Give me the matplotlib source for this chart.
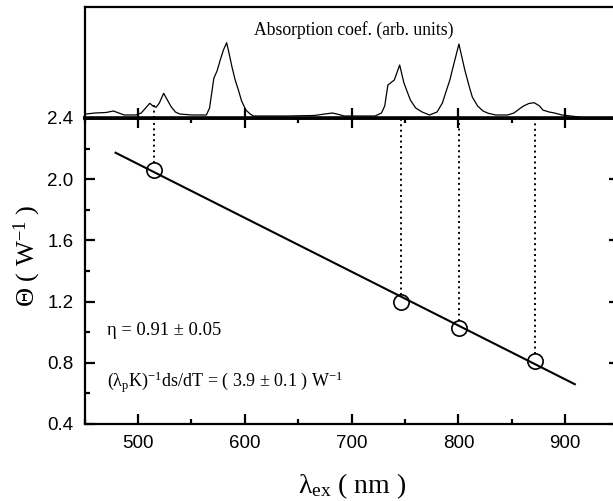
import numpy as np
from matplotlib import pyplot as plt
from matplotlib.ticker import MultipleLocator, NullLocator, FormatStrFormatter

# excitation wavelengths (nm) and measured Theta (W^-1)
lam_ex = [515, 746, 801, 872]
theta = [2.06, 1.20, 1.025, 0.815]

# linear fit, end points
fit_x = [479, 909]
fit_y = [2.173, 0.66]

# absorption spectrum (arb. units)
spec_nm = [451, 460, 470, 477, 482, 487, 498, 503, 508, 511, 514, 517, 520, 524, 527,
           531, 535, 539, 550, 564, 567, 571, 574, 577, 580, 583, 585, 588, 591, 594,
           597, 601, 605, 608, 640, 665, 675, 682, 688, 693, 722, 728, 731, 734, 740,
           745, 749, 755, 760, 766, 773, 780, 785, 788, 792, 795, 800.5, 803, 806, 810,
           813, 818, 823, 828, 835, 846, 852, 857, 861, 866, 871, 876, 879, 885, 890,
           897, 905, 913]
spec_a = [4, 5, 5.5, 7, 5, 3, 3, 5, 11, 14.7, 12, 10.7, 15, 24.7, 19,
          11.3, 6, 4, 3, 3, 10, 39.7, 47, 58, 68, 75.3, 66, 51, 38, 28,
          17, 8, 4, 2, 2, 2.5, 4, 5, 3.5, 2, 2, 5, 12, 33, 38,
          53, 35, 18, 10, 6, 3, 6, 15, 25, 38, 51, 74, 62, 48, 32,
          21, 12, 7, 4.7, 3, 3, 5, 9, 12, 14.5, 15.3, 12, 8, 6, 5,
          3, 2, 1]

plt.rcParams['mathtext.fontset'] = 'custom'
plt.rcParams['mathtext.rm'] = 'Liberation Serif'
plt.rcParams['mathtext.it'] = 'Liberation Serif:italic'
plt.rcParams['mathtext.default'] = 'regular'

serif = 'Liberation Serif'
sans = 'Liberation Sans'

W, H = 613, 501
fig = plt.figure(figsize=(W / 100, H / 100), dpi=100)
ax = fig.add_axes([84.6 / W, 77 / H, 534 / W, 306 / H])
axt = fig.add_axes([84.6 / W, 383 / H, 534 / W, 111 / H])

# main panel
ax.plot(fit_x, fit_y, color='k', lw=1.5)
ax.plot(lam_ex, theta, 'o', ms=11, mfc='none', mec='k', mew=1.2)
for x, y in zip(lam_ex, theta):
  ax.plot([x, x], [y + 0.045, 2.4], color='k', lw=1.4, dashes=(1, 1.8))

ax.set_xlim(450, 950)
ax.set_ylim(0.4, 2.4)
ax.xaxis.set_major_locator(MultipleLocator(100))
ax.xaxis.set_minor_locator(MultipleLocator(50))
ax.yaxis.set_major_locator(MultipleLocator(0.4))
ax.yaxis.set_minor_locator(MultipleLocator(0.2))
ax.yaxis.set_major_formatter(FormatStrFormatter('%.1f'))
ax.tick_params(which='both', direction='in', top=True, right=True)
ax.tick_params(which='major', length=7, width=1.6, labelsize=13.5, pad=8)
ax.tick_params(which='minor', length=3.5, width=1.6)
for lab in ax.get_xticklabels() + ax.get_yticklabels():
  lab.set_family(sans)
for s in ax.spines.values():
  s.set_linewidth(1.6)
ax.spines['top'].set_linewidth(2.6)

ax.set_xlabel('λ$_{ex}$ ( nm )', family=serif, fontsize=20, labelpad=14)
ax.set_ylabel('Θ ( W$^{-1}$ )', family=serif, fontsize=19)
ax.yaxis.set_label_coords(-0.078, 0.55)

ax.text(471, 1.01, 'η = 0.91 ± 0.05', family=serif, fontsize=13.3, va='center')
ax.text(471, 0.675, r'(λ$_p$K)$^{-1}$ds/dT = ( 3.9 ± 0.1 ) W$^{-1}$',
        family=serif, fontsize=13, va='center')

# top panel: absorption spectrum
axt.plot(spec_nm, spec_a, color='k', lw=0.9)
axt.plot([lam_ex[0], lam_ex[0]], [0, 13], color='k', lw=1.4, dashes=(1, 1.8))
axt.set_xlim(450, 950)
axt.set_ylim(0, 111)
axt.xaxis.set_major_locator(MultipleLocator(100))
axt.yaxis.set_major_locator(NullLocator())
axt.tick_params(axis='x', direction='in', length=7, width=1.6, labelbottom=False)
for s in axt.spines.values():
  s.set_linewidth(1.6)
axt.spines['bottom'].set_linewidth(2.6)
axt.text(702, 88, 'Absorption coef. (arb. units)', family=serif, fontsize=12.7,
         ha='center', va='center')

fig.savefig('out.png', dpi=100)
